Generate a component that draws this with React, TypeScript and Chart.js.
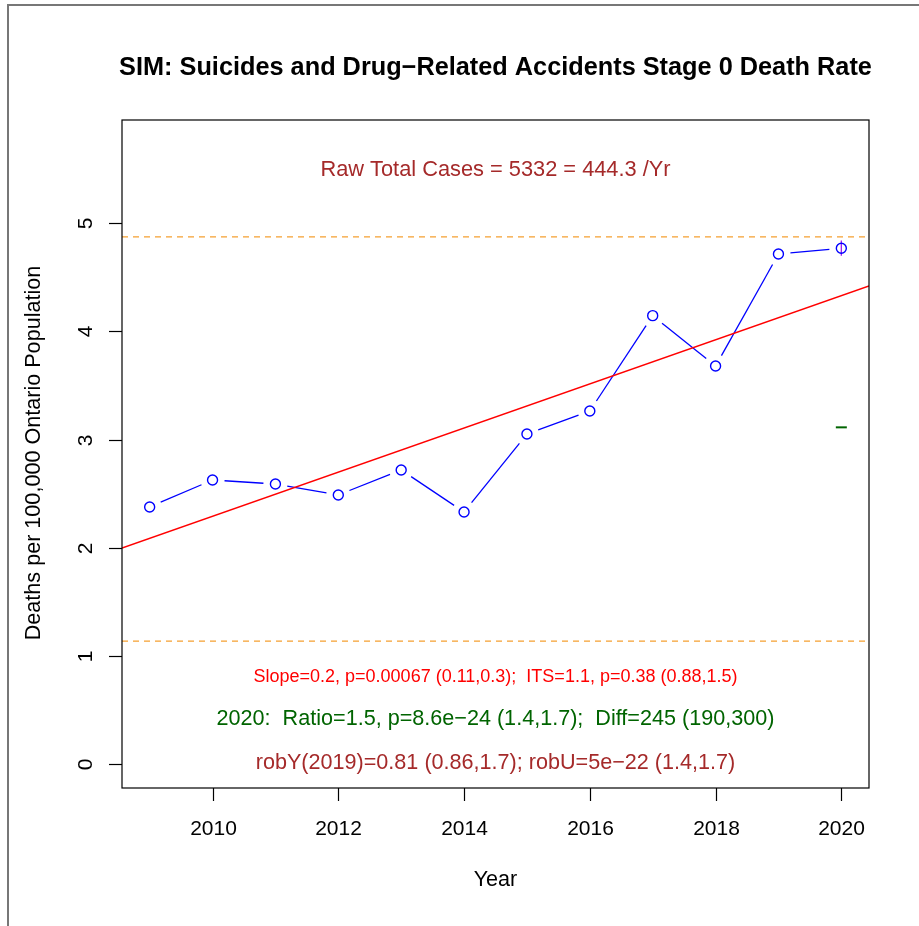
import React, { useEffect, useRef } from "react";
import { Chart, registerables } from "chart.js";

Chart.register(...registerables);

// ---- data ----
const years = [2009, 2010, 2011, 2012, 2013, 2014, 2015, 2016, 2017, 2018, 2019, 2020];
const rates = [2.377, 2.626, 2.589, 2.488, 2.719, 2.33, 3.052, 3.264, 4.146, 3.68, 4.716, 4.769];
const trendX = [2008.56, 2020.44];
const trendY = [1.997, 4.42];
const upperRef = 4.875;
const lowerRef = 1.137;
const errYear = 2020;
const errRange = [4.7, 4.84];
const markYear = 2020;
const markValue = 3.113;
const xTicks = [2010, 2012, 2014, 2016, 2018, 2020];
const yTicks = [0, 1, 2, 3, 4, 5];
const xRange = [2008.56, 2020.44];
const yRange = [-0.222, 5.955];

const titleText = "SIM: Suicides and Drug\u2212Related Accidents Stage 0 Death Rate";
const xTitle = "Year";
const yTitle = "Deaths per 100,000 Ontario Population";
const noteTop = "Raw Total Cases = 5332 = 444.3 /Yr";
const noteRed = "Slope=0.2, p=0.00067 (0.11,0.3);  ITS=1.1, p=0.38 (0.88,1.5)";
const noteGreen = "2020:  Ratio=1.5, p=8.6e\u221224 (1.4,1.7);  Diff=245 (190,300)";
const noteBrown = "robY(2019)=0.81 (0.86,1.7); robU=5e\u221222 (1.4,1.7)";
const noteY = [5.493, 0.805, 0.416, 0.009];

const FONT = "'Liberation Sans', Arial, Helvetica, sans-serif";

const gappedLinePlugin = {
  id: "gappedLine",
  beforeDatasetsDraw(chart: any) {
    const { ctx, scales, chartArea } = chart;
    const xs = scales.x;
    const ys = scales.y;
    const gap = 12;
    ctx.save();
    ctx.beginPath();
    ctx.rect(chartArea.left, chartArea.top, chartArea.right - chartArea.left, chartArea.bottom - chartArea.top);
    ctx.clip();
    ctx.strokeStyle = "#0000FF";
    ctx.lineWidth = 1.3;
    for (let i = 0; i < years.length - 1; i++) {
      const x1 = xs.getPixelForValue(years[i]);
      const y1 = ys.getPixelForValue(rates[i]);
      const x2 = xs.getPixelForValue(years[i + 1]);
      const y2 = ys.getPixelForValue(rates[i + 1]);
      const dx = x2 - x1;
      const dy = y2 - y1;
      const len = Math.hypot(dx, dy);
      if (len <= 2 * gap) continue;
      const ux = dx / len;
      const uy = dy / len;
      ctx.beginPath();
      ctx.moveTo(x1 + ux * gap, y1 + uy * gap);
      ctx.lineTo(x2 - ux * gap, y2 - uy * gap);
      ctx.stroke();
    }
    ctx.restore();
  },
};

const decorPlugin = {
  id: "decor",
  afterDraw(chart: any) {
    const { ctx, scales, chartArea } = chart;
    const xs = scales.x;
    const ys = scales.y;
    const { left, right, top, bottom } = chartArea;
    const cx = (left + right) / 2;
    ctx.save();

    // outer frame (left and top)
    ctx.strokeStyle = "#777777";
    ctx.lineWidth = 2;
    ctx.beginPath();
    ctx.moveTo(8, chart.height);
    ctx.lineTo(8, 5);
    ctx.lineTo(chart.width, 5);
    ctx.stroke();

    // plot box
    ctx.strokeStyle = "#000000";
    ctx.lineWidth = 1.2;
    ctx.strokeRect(left, top, right - left, bottom - top);

    // x ticks
    ctx.fillStyle = "#000000";
    ctx.font = `21px ${FONT}`;
    ctx.textAlign = "center";
    ctx.textBaseline = "middle";
    for (const t of xTicks) {
      const px = Math.round(xs.getPixelForValue(t)) + 0.5;
      ctx.beginPath();
      ctx.moveTo(px, bottom);
      ctx.lineTo(px, bottom + 13);
      ctx.stroke();
      ctx.fillText(String(t), px, bottom + 41);
    }
    // y ticks
    for (const t of yTicks) {
      const py = Math.round(ys.getPixelForValue(t)) + 0.5;
      ctx.beginPath();
      ctx.moveTo(left, py);
      ctx.lineTo(left - 13, py);
      ctx.stroke();
      ctx.save();
      ctx.translate(left - 36, py);
      ctx.rotate(-Math.PI / 2);
      ctx.fillText(String(t), 0, 0);
      ctx.restore();
    }

    // axis titles
    ctx.font = `21.6px ${FONT}`;
    ctx.fillText(xTitle, cx, bottom + 92);
    ctx.save();
    ctx.translate(34, (top + bottom) / 2 - 1);
    ctx.rotate(-Math.PI / 2);
    ctx.fillText(yTitle, 0, 0);
    ctx.restore();

    // main title
    ctx.font = `bold 25.3px ${FONT}`;
    ctx.fillText(titleText, cx, 68);

    // notes
    ctx.font = `21.8px ${FONT}`;
    ctx.fillStyle = "#A52A2A";
    ctx.fillText(noteTop, cx, ys.getPixelForValue(noteY[0]));
    ctx.font = `18px ${FONT}`;
    ctx.fillStyle = "#FF0000";
    ctx.fillText(noteRed, cx, ys.getPixelForValue(noteY[1]));
    ctx.font = `21.6px ${FONT}`;
    ctx.fillStyle = "#006400";
    ctx.fillText(noteGreen, cx, ys.getPixelForValue(noteY[2]));
    ctx.fillStyle = "#A52A2A";
    ctx.fillText(noteBrown, cx, ys.getPixelForValue(noteY[3]));

    ctx.restore();
  },
};

export default function App() {
  const canvasRef = useRef<HTMLCanvasElement | null>(null);

  useEffect(() => {
    const canvas = canvasRef.current;
    if (!canvas) return;
    const chart = new Chart(canvas, {
      type: "line",
      data: {
        datasets: [
          {
            label: "rates",
            data: years.map((y, i) => ({ x: y, y: rates[i] })),
            showLine: false,
            pointStyle: "circle",
            pointRadius: 5,
            pointBorderWidth: 1.4,
            pointBorderColor: "#0000FF",
            pointBackgroundColor: "rgba(0,0,0,0)",
            borderColor: "#0000FF",
          },
          {
            label: "trend",
            data: trendX.map((x, i) => ({ x, y: trendY[i] })),
            borderColor: "#FF0000",
            borderWidth: 1.4,
            pointRadius: 0,
          },
          {
            label: "upper",
            data: xRange.map((x) => ({ x, y: upperRef })),
            borderColor: "#F5A030",
            borderWidth: 1.2,
            borderDash: [6, 5],
            pointRadius: 0,
          },
          {
            label: "lower",
            data: xRange.map((x) => ({ x, y: lowerRef })),
            borderColor: "#F5A030",
            borderWidth: 1.2,
            borderDash: [6, 5],
            pointRadius: 0,
          },
          {
            label: "err",
            data: errRange.map((v) => ({ x: errYear, y: v })),
            borderColor: "#A020F0",
            borderWidth: 1.3,
            pointRadius: 0,
          },
          {
            label: "mark",
            data: [{ x: markYear, y: markValue }],
            showLine: false,
            pointStyle: "line",
            pointRadius: 5.5,
            pointBorderWidth: 2,
            pointBorderColor: "#006400",
            borderColor: "#006400",
          },
        ],
      },
      options: {
        responsive: false,
        animation: false,
        devicePixelRatio: 1,
        layout: { padding: { left: 122, right: 50, top: 120, bottom: 138 } },
        scales: {
          x: { type: "linear", min: xRange[0], max: xRange[1], display: false },
          y: { type: "linear", min: yRange[0], max: yRange[1], display: false },
        },
        plugins: {
          legend: { display: false },
          tooltip: { enabled: false },
          title: { display: false },
        },
        events: [],
      },
      plugins: [gappedLinePlugin, decorPlugin],
    });
    return () => chart.destroy();
  }, []);

  return (
    <div style={{ position: "absolute", left: 0, top: 0, width: 919, height: 926, background: "#fff" }}>
      <canvas ref={canvasRef} width={919} height={926} style={{ display: "block" }} />
    </div>
  );
}
